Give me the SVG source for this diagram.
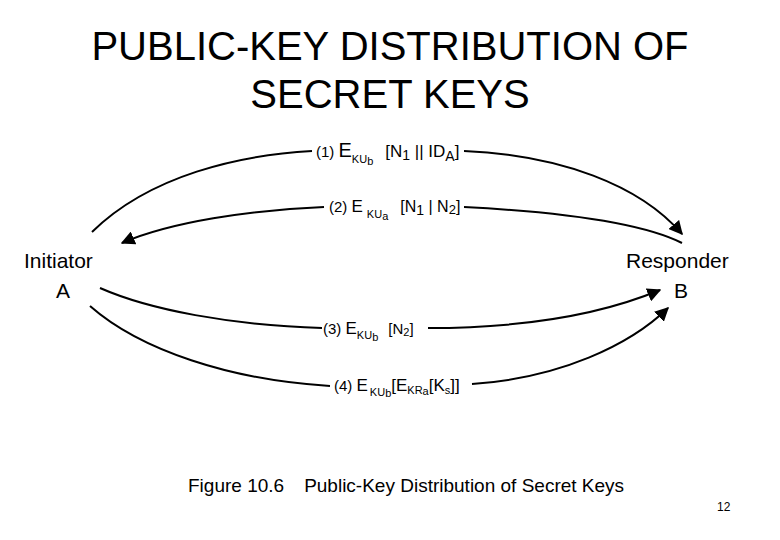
<svg xmlns="http://www.w3.org/2000/svg" width="780" height="540" viewBox="0 0 780 540">
<style>
text{font-family:"Liberation Sans",Arial,sans-serif;fill:#000}
.t{font-size:40px}
.n{font-size:21px}
.l{font-size:15px}
.s{font-size:11px}
.c{fill:none;stroke:#000;stroke-width:2}
</style>
<defs><marker id="a" viewBox="0 0 10 10" refX="9" refY="5" markerWidth="7" markerHeight="7" orient="auto"><path d="M0,0L10,5L0,10z" fill="#000"/></marker></defs>
<rect width="780" height="540" fill="#fff"/>
<text class="t" x="390" y="60" text-anchor="middle">PUBLIC-KEY DISTRIBUTION OF</text>
<text class="t" x="390" y="108" text-anchor="middle">SECRET KEYS</text>
<g id="initiator"><text class="n" x="24" y="268">Initiator</text><text class="n" x="56" y="298">A</text></g>
<g id="responder"><text class="n" x="626" y="268">Responder</text><text class="n" x="674" y="298">B</text></g>
<g id="connectors">
<path class="c" d="M92,232 C150,175 240,155 312,151" />
<path class="c" d="M464,151 C560,155 640,185 682,234" marker-end="url(#a)"/>
<path class="c" d="M682,243 C640,222 560,212 464,207" />
<path class="c" d="M324,207 C250,210 170,222 122,243" marker-end="url(#a)"/>
<path class="c" d="M100,288 C150,310 230,325 322,328" />
<path class="c" d="M428,328 C520,328 600,315 660,290" marker-end="url(#a)"/>
<path class="c" d="M90,306 C140,350 230,380 330,386" />
<path class="c" d="M472,384 C560,378 630,345 668,308" marker-end="url(#a)"/>
</g>
<g id="labels">
<text class="l" x="316" y="157">(1) <tspan font-size="20">E</tspan><tspan class="s" dy="6">KU<tspan dy="2">b</tspan></tspan><tspan dy="-8" dx="12" font-size="17">[N</tspan><tspan dy="3" font-size="14">1</tspan><tspan dy="-3" font-size="17"> || ID</tspan><tspan dy="4" font-size="14">A</tspan><tspan dy="-4" font-size="17">]</tspan></text>
<text class="l" x="329" y="212">(2) <tspan font-size="17">E</tspan><tspan class="s" dx="4" dy="6">KU<tspan dy="2">a</tspan></tspan><tspan dy="-8" dx="12" font-size="16">[N</tspan><tspan dy="3" font-size="14">1</tspan><tspan dy="-3" font-size="16"> | N</tspan><tspan dy="2" font-size="13">2</tspan><tspan dy="-2" font-size="16">]</tspan></text>
<text class="l" x="323" y="334">(3) <tspan font-size="17">E</tspan><tspan class="s" dy="5">KU<tspan dy="2">b</tspan></tspan><tspan dy="-7" dx="10" font-size="15">[N</tspan><tspan dy="2" font-size="11">2</tspan><tspan dy="-2" font-size="15">]</tspan></text>
<text class="l" x="334" y="391">(4) <tspan font-size="17">E</tspan><tspan class="s" dy="5" dx="2">KU<tspan dy="1">b</tspan></tspan><tspan dy="-6" font-size="17">[E</tspan><tspan class="s" dy="3">KR<tspan dy="1">a</tspan></tspan><tspan dy="-4" font-size="17">[K</tspan><tspan class="s" dy="3">s</tspan><tspan dy="-3" font-size="17">]]</tspan></text>
</g>
<text x="188" y="492" font-size="19">Figure 10.6<tspan dx="20">Public-Key Distribution of Secret Keys</tspan></text>
<text x="717" y="511" font-size="12">12</text>
</svg>
